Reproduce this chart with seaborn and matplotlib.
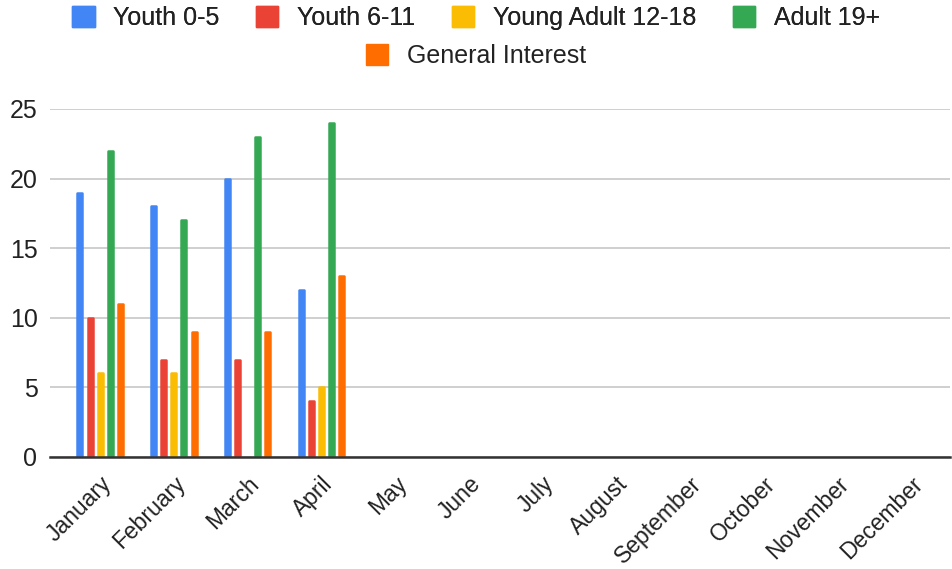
import numpy as np
import pandas as pd
import matplotlib
matplotlib.use("Agg")
import matplotlib.pyplot as plt
from matplotlib.patches import Patch
import seaborn as sns

months = ["January", "February", "March", "April", "May", "June", "July",
          "August", "September", "October", "November", "December"]
groups = ["Youth 0-5", "Youth 6-11", "Young Adult 12-18", "Adult 19+", "General Interest"]
colors = ["#4285F4", "#EA4335", "#FBBC04", "#34A853", "#FF6D01"]

youth_0_5 = [19, 18, 20, 12]
youth_6_11 = [10, 7, 7, 4]
young_adult = [6, 6, None, 5]
adult_19 = [22, 17, 23, 24]
general = [11, 9, 9, 13]

series = [youth_0_5, youth_6_11, young_adult, adult_19, general]
rows = []
for g, vals in zip(groups, series):
    for m, v in zip(months, vals):
        if v is not None:
            rows.append({"Month": m, "Group": g, "Count": v})
df = pd.DataFrame(rows)

sns.set_theme(style="white")
plt.rcParams["font.family"] = ["Liberation Sans", "DejaVu Sans"]

fig = plt.figure(figsize=(9.52, 5.69), dpi=100)
ax = fig.add_axes([50 / 952, 1 - 457 / 569, 900 / 952, (457 - 109) / 569])

sns.barplot(data=df, x="Month", y="Count", hue="Group", order=months,
            hue_order=groups, palette=colors, saturation=1, width=0.685,
            gap=0.5, errorbar=None, legend=False, ax=ax, zorder=3)

for bar in ax.patches:
    bar.set_edgecolor(bar.get_facecolor())
    bar.set_linewidth(1.8)
    bar.set_joinstyle("round")

ax.set_xlim(-0.68, 11.53)
ax.set_ylim(0, 25)
ax.set_yticks([0, 5, 10, 15, 20, 25])
ax.yaxis.grid(True, color="#cccccc", linewidth=1.3, zorder=0)
ax.xaxis.grid(False)
for s in ["top", "right", "left"]:
    ax.spines[s].set_visible(False)
ax.spines["bottom"].set_color("#333333")
ax.spines["bottom"].set_linewidth(1.8)
ax.spines["bottom"].set_zorder(4)
ax.set_xlabel("")
ax.set_ylabel("")
ax.tick_params(axis="y", length=0, colors="#222222", labelsize=18, pad=9)
ax.tick_params(axis="x", length=0, colors="#222222", labelsize=16.5, pad=11)
plt.setp(ax.get_xticklabels(), rotation=45, ha="right", va="top",
         rotation_mode="anchor")

handles = [Patch(facecolor=c, edgecolor=c, linewidth=1.0, joinstyle="round")
           for c in colors]
leg1 = fig.legend(handles[:4], groups[:4], loc="center", ncol=4,
                  bbox_to_anchor=(0.5, 1 - 18 / 569), frameon=False,
                  fontsize=18, handlelength=0.9, handleheight=0.9,
                  handletextpad=0.75, columnspacing=1.45,
                  labelcolor="#222222")
leg2 = fig.legend(handles[4:], groups[4:], loc="center", ncol=1,
                  bbox_to_anchor=(0.5, 1 - 56 / 569), frameon=False,
                  fontsize=18, handlelength=0.9, handleheight=0.9,
                  handletextpad=0.75, labelcolor="#222222")
fig.add_artist(leg1)

fig.savefig("out.png", dpi=100)
